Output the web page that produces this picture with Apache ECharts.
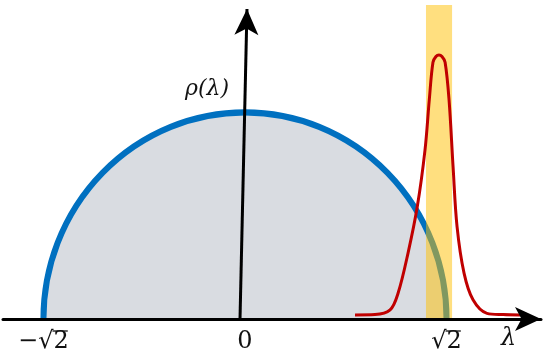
<!DOCTYPE html>
<html>
<head>
<meta charset="utf-8">
<title>semicircle</title>
<script src="https://cdn.jsdelivr.net/npm/echarts@6/dist/echarts.min.js"></script>
<style>
html,body{margin:0;padding:0;background:#fff;}
#main{width:550px;height:364px;}
</style>
</head>
<body>
<div id="main"></div>
<script>
// data (y in arbitrary units, 0..1 over the plot height)
var SQRT2 = Math.SQRT2;
var tickValues = [-SQRT2, 0, SQRT2];
var tickLabels = ['\u2212\u221a2', '0', '\u221a2'];
var bulkEdges = [-SQRT2, SQRT2];   // semicircle support
var bulkPeak = 0.658;              // semicircle height at 0
var edgeX = [0.772, 0.912, 1.018, 1.074, 1.144, 1.209, 1.263, 1.293, 1.319, 1.340, 1.361, 1.382, 1.404, 1.432, 1.460, 1.488, 1.537, 1.600, 1.698, 1.811, 1.930];
var edgeY = [0.013, 0.014, 0.029, 0.082, 0.210, 0.358, 0.538, 0.697, 0.818, 0.836, 0.841, 0.836, 0.818, 0.697, 0.485, 0.294, 0.146, 0.061, 0.018, 0.014, 0.013];
var bandRange = [1.270, 1.453];
var yArrow = [[-0.035, 0], [0.014, 0.987]];

var edgeData = edgeX.map(function (x, i) { return [x, edgeY[i]]; });

var chart = echarts.init(document.getElementById('main'));
var serif = 'DejaVu Serif';
var labelSize = 24;

var option = {
    animation: false,
    backgroundColor: '#fff',
    grid: { left: 3, right: 9, top: 5, bottom: 45 },
    xAxis: {
        type: 'value',
        min: -1.698,
        max: 2.077,
        z: 10,
        splitLine: { show: false },
        axisTick: { show: false },
        axisLine: {
            onZero: false,
            symbol: ['none', 'arrow'],
            symbolSize: [18, 26],
            lineStyle: { color: '#000', width: 3 }
        },
        axisLabel: {
            customValues: tickValues,
            margin: 11,
            fontFamily: serif,
            fontSize: labelSize,
            color: '#111',
            formatter: function (v) {
                var k = 0, best = 1e9;
                tickValues.forEach(function (t, i) {
                    if (Math.abs(t - v) < best) { best = Math.abs(t - v); k = i; }
                });
                return tickLabels[k];
            }
        }
    },
    yAxis: { type: 'value', min: 0, max: 1, show: false },
    series: [
        {
            type: 'custom',
            z: 1,
            silent: true,
            data: [[bulkEdges[0], bulkEdges[1], bulkPeak]],
            renderItem: function (params, api) {
                var p0 = api.coord([api.value(0), 0]);
                var p1 = api.coord([api.value(1), 0]);
                var pt = api.coord([0, api.value(2)]);
                var cx = (p0[0] + p1[0]) / 2, cy = p0[1];
                var r = (p1[0] - p0[0]) / 2;
                var sy = (cy - pt[1]) / r;
                return {
                    type: 'group',
                    children: [
                        { type: 'sector', originX: cx, originY: cy, scaleY: sy,
                          shape: { cx: cx, cy: cy, r0: 0, r: r, startAngle: Math.PI, endAngle: 2 * Math.PI, clockwise: true },
                          style: { fill: '#D9DCE1' } },
                        { type: 'arc', originX: cx, originY: cy, scaleY: sy,
                          shape: { cx: cx, cy: cy, r: r, startAngle: Math.PI, endAngle: 2 * Math.PI, clockwise: true },
                          style: { fill: null, stroke: '#0070C0', lineWidth: 6 } }
                    ]
                };
            }
        },
        {
            // highlighted band around the edge
            type: 'custom',
            z: 3,
            silent: true,
            clip: false,
            data: [bandRange],
            renderItem: function (params, api) {
                var a = api.coord([api.value(0), 1]);
                var b = api.coord([api.value(1), 0]);
                return {
                    type: 'rect',
                    shape: { x: a[0], y: a[1], width: b[0] - a[0], height: b[1] - a[1] + 2 },
                    style: { fill: 'rgba(255,192,0,0.5)' }
                };
            }
        },
        {
            type: 'line',
            z: 4,
            data: edgeData,
            smooth: 0.35,
            symbol: 'none',
            silent: true,
            lineStyle: { color: '#C00000', width: 3 }
        },
        {
            type: 'line',
            z: 5,
            data: [],
            silent: true,
            markLine: {
                silent: true,
                symbol: ['none', 'arrow'],
                symbolSize: [18, 26],
                label: { show: false },
                lineStyle: { color: '#000', width: 3, type: 'solid' },
                data: [[{ coord: yArrow[0] }, { coord: yArrow[1] }]]
            }
        }
    ]
};

chart.setOption(option);

// text marks: axis names and the radical bar over the 2 in the tick labels
var ctx = document.createElement('canvas').getContext('2d');
ctx.font = labelSize + 'px "' + serif + '"';
var w2 = ctx.measureText('2').width;
var barY = chart.convertToPixel({ gridIndex: 0 }, [0, 0])[1] + 11 + 1;
var bars = [-SQRT2, SQRT2].map(function (v, i) {
    var px = chart.convertToPixel({ gridIndex: 0 }, [v, 0])[0];
    var full = ctx.measureText(tickLabels[i === 0 ? 0 : 2]).width;
    var right = px + full / 2;
    return {
        type: 'line', z: 20, silent: true,
        shape: { x1: right - w2 - 1, y1: barY, x2: right - 1, y2: barY },
        style: { stroke: '#111', lineWidth: 1.3 }
    };
});

chart.setOption({
    graphic: [
        { type: 'text', left: 185, top: 78, z: 20,
          style: { text: '\u03c1(\u03bb)', font: 'italic 22px "DejaVu Serif"', fill: '#111' } },
        { type: 'text', left: 501, top: 327, z: 20,
          style: { text: '\u03bb', font: 'italic 24px "DejaVu Serif"', fill: '#111' } }
    ].concat(bars)
});
</script>
</body>
</html>
